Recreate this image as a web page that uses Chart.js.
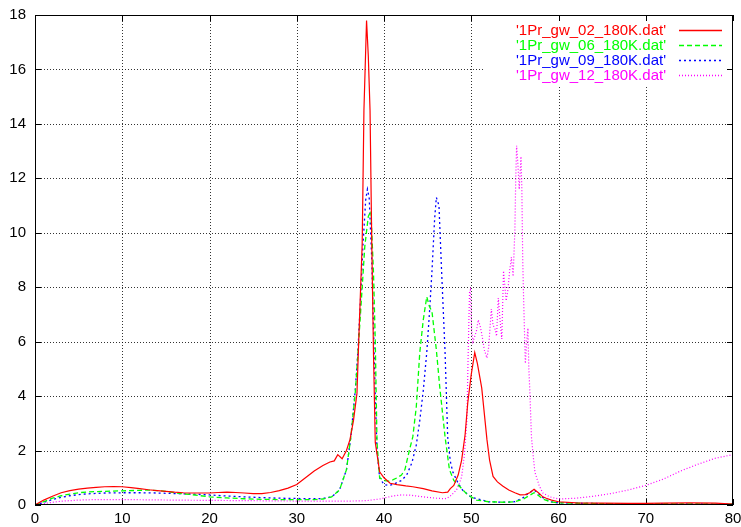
<!DOCTYPE html>
<html><head><meta charset="utf-8">
<script src="https://cdn.jsdelivr.net/npm/chart.js@4/dist/chart.umd.min.js"></script>
<style>html,body{margin:0;padding:0;background:#fff;}#wrap{width:741px;height:527px;}</style>
</head><body><div id="wrap"><canvas id="c" width="741" height="527"></canvas></div>
<script>
// ---- data ----
const seriesLabels = ["'1Pr_gw_02_180K.dat'", "'1Pr_gw_06_180K.dat'", "'1Pr_gw_09_180K.dat'", "'1Pr_gw_12_180K.dat'"];
const xTicks = [0,10,20,30,40,50,60,70,80];
const yTicks = [0,2,4,6,8,10,12,14,16,18];

const redX = [0,1,2,3,4,5,6,7,8,9,10,11,12,13,14,15,16,17,18,19,20,21,22,23,24,25,26,27,28,29,30,31,32,33,33.8,34.3,34.7,35.2,35.7,36.1,36.5,36.9,37.1,37.5,37.7,38.0,38.2,38.4,38.6,38.8,39.0,39.5,40.0,40.7,41.5,42.5,43.3,44.5,45.5,46.7,47.3,47.6,48.0,48.5,48.9,49.3,49.6,50.0,50.4,50.7,51.2,51.8,52.1,52.5,53.0,53.6,54.3,55.0,55.6,56.2,56.7,57.2,57.7,58.2,58.6,59.2,60,62,65,68,70,72,75,78,80];
const redY = [0,0.18,0.32,0.45,0.53,0.58,0.62,0.65,0.67,0.68,0.67,0.64,0.6,0.56,0.53,0.5,0.47,0.45,0.44,0.44,0.44,0.46,0.47,0.46,0.44,0.42,0.42,0.46,0.53,0.62,0.75,1.0,1.25,1.45,1.58,1.62,1.85,1.7,2.0,2.4,3.1,4.1,6.0,9.6,14.5,17.8,16.5,14.5,9.6,5.5,2.3,1.22,1.0,0.8,0.75,0.7,0.67,0.6,0.52,0.45,0.47,0.6,0.72,1.1,1.65,2.6,3.75,4.8,5.6,5.2,4.3,2.4,1.65,1.05,0.85,0.7,0.55,0.45,0.37,0.38,0.45,0.58,0.45,0.3,0.25,0.18,0.12,0.08,0.07,0.06,0.06,0.07,0.08,0.07,0.03];

const greenX = [0,1,2,3,4,5,6,8,10,12,13,14,15,16,17,18,19,20,22,24,26,28,30,32,33,34,34.9,35.7,36.2,36.7,37.0,37.4,37.8,38.2,38.5,38.8,39.0,39.2,39.5,40.0,40.5,41.0,41.5,42.0,42.4,42.9,43.3,43.7,44.1,44.5,44.9,45.2,45.5,46.0,46.4,47.0,47.5,48.0,48.7,49.5,50.6,52,54,55,56,56.5,57.2,57.7,58.2,59,60,65,70,75,80];
const greenY = [0,0.12,0.25,0.34,0.4,0.45,0.48,0.5,0.52,0.54,0.55,0.53,0.5,0.45,0.41,0.38,0.34,0.3,0.26,0.23,0.21,0.2,0.2,0.2,0.22,0.3,0.55,1.3,2.5,4.1,5.5,7.5,9.5,10.6,10.8,8.5,6.0,2.3,1.0,0.9,0.88,0.92,1.0,1.1,1.3,2.0,2.5,3.6,5.6,6.8,7.65,7.3,7.1,5.7,4.3,2.5,1.3,0.9,0.67,0.4,0.18,0.12,0.1,0.12,0.22,0.32,0.45,0.35,0.22,0.12,0.08,0.05,0.05,0.04,0.03];

const blueX = [0,1,2,3,4,5,6,8,10,12,14,16,18,20,22,24,26,28,30,32,33,34,34.9,35.7,36.2,36.7,37.0,37.3,37.6,37.9,38.1,38.3,38.6,38.8,39.0,39.2,39.5,40.0,40.5,41.0,42.0,42.6,43.2,43.7,44.1,44.5,44.9,45.2,45.5,45.8,46.0,46.3,46.6,47.0,47.3,47.6,47.9,48.5,49.0,50,52,54,55,56,56.5,57.2,57.7,58.2,59,60,65,70,75,80];
const blueY = [0,0.1,0.2,0.28,0.34,0.38,0.41,0.44,0.45,0.45,0.44,0.42,0.4,0.37,0.33,0.3,0.27,0.25,0.24,0.23,0.24,0.3,0.55,1.3,2.5,4.2,5.6,7.5,9.6,11.2,11.6,11.3,9.0,6.5,4.0,2.0,1.0,0.75,0.72,0.75,0.9,1.1,1.55,2.2,3.1,4.2,5.6,7.0,8.6,10.5,11.3,11.0,8.6,5.6,2.5,1.6,1.2,0.8,0.55,0.28,0.12,0.1,0.12,0.28,0.42,0.55,0.42,0.28,0.12,0.08,0.05,0.05,0.04,0.03];

const magX = [0,1,2,3,5,7,10,13,16,20,24,28,32,35,37,38,39.5,41,42,43,44,45,46,47,47.5,48,48.3,48.6,48.9,49.2,49.5,49.65,49.8,49.9,50.05,50.2,50.4,50.6,50.8,51.0,51.2,51.5,51.8,52.0,52.3,52.5,52.7,52.9,53.1,53.3,53.5,53.7,54.0,54.2,54.4,54.6,54.8,55.0,55.1,55.2,55.35,55.5,55.7,55.8,55.9,56.0,56.2,56.35,56.5,56.6,56.7,56.9,57.1,57.3,57.6,57.8,58.2,59,60,62,64,66,68,70,72,74,76,78,80];
const magY = [0,0.05,0.1,0.14,0.18,0.2,0.2,0.19,0.18,0.17,0.16,0.15,0.14,0.14,0.15,0.16,0.22,0.33,0.37,0.36,0.32,0.28,0.25,0.23,0.3,0.45,0.55,0.75,1.04,1.8,3.1,5.6,7.8,7.9,6.4,6.0,6.2,6.4,6.8,6.6,6.3,5.7,5.4,5.8,7.2,6.6,6.5,6.2,7.6,6.8,6.1,8.6,7.5,7.9,8.6,9.1,8.4,10.1,12.0,13.2,12.5,11.6,12.8,11.6,9.0,7.6,5.2,6.0,6.5,5.0,4.3,2.5,1.8,1.2,0.9,0.7,0.44,0.3,0.22,0.25,0.32,0.42,0.55,0.72,0.95,1.25,1.5,1.72,1.85];

// ---- chart ----
const pts = (xs, ys) => xs.map((x, i) => ({x: x, y: ys[i]}));
const FONT = "'Liberation Sans', Arial, sans-serif";

const gnuplotFrame = {
  id: 'gnuplotFrame',
  beforeDatasetsDraw(chart) {
    const {ctx, chartArea: a, scales: {x, y}} = chart;
    ctx.save();
    ctx.lineWidth = 1;
    ctx.strokeStyle = 'rgba(0,0,0,0.8)';
    ctx.setLineDash([1, 2]);
    ctx.beginPath();
    xTicks.slice(1, -1).forEach(v => {
      const px = Math.round(x.getPixelForValue(v)) + 0.5;
      ctx.moveTo(px, a.top); ctx.lineTo(px, a.bottom);
    });
    yTicks.slice(1, -1).forEach(v => {
      const py = Math.round(y.getPixelForValue(v)) + 0.5;
      ctx.moveTo(a.left, py); ctx.lineTo(a.right, py);
    });
    ctx.stroke();
    // key background
    ctx.setLineDash([]);
    ctx.fillStyle = '#fff';
    ctx.fillRect(484, a.top + 1, a.right - 485, 70);
    // inward ticks
    ctx.strokeStyle = '#000';
    ctx.beginPath();
    const tl = 6;
    xTicks.forEach(v => {
      const px = Math.round(x.getPixelForValue(v)) + 0.5;
      ctx.moveTo(px, a.bottom); ctx.lineTo(px, a.bottom - tl);
      ctx.moveTo(px, a.top); ctx.lineTo(px, a.top + tl);
    });
    yTicks.forEach(v => {
      const py = Math.round(y.getPixelForValue(v)) + 0.5;
      ctx.moveTo(a.left, py); ctx.lineTo(a.left + tl, py);
      ctx.moveTo(a.right, py); ctx.lineTo(a.right - tl, py);
    });
    ctx.stroke();
    ctx.restore();
  },
  afterDatasetsDraw(chart) {
    const {ctx, chartArea: a} = chart;
    ctx.save();
    ctx.lineWidth = 1;
    ctx.strokeStyle = '#000';
    ctx.setLineDash([]);
    ctx.strokeRect(Math.round(a.left) + 0.5, Math.round(a.top) + 0.5, Math.round(a.right - a.left) - 1, Math.round(a.bottom - a.top) - 1);
    // key
    ctx.font = '15px ' + FONT;
    ctx.textAlign = 'right';
    ctx.textBaseline = 'middle';
    chart.data.datasets.forEach((ds, i) => {
      const yy = 30 + i * 15;
      ctx.fillStyle = ds.borderColor;
      ctx.fillText(ds.label, 666, yy + 1);
      ctx.strokeStyle = ds.borderColor;
      ctx.lineWidth = 1.5;
      ctx.setLineDash(ds.borderDash || []);
      ctx.beginPath();
      ctx.moveTo(679, yy + 0.5); ctx.lineTo(722, yy + 0.5);
      ctx.stroke();
    });
    ctx.restore();
  }
};

new Chart(document.getElementById('c'), {
  type: 'line',
  data: {
    datasets: [
      {label: seriesLabels[0], data: pts(redX, redY), borderColor: '#ff0000', borderWidth: 1.2, borderDash: []},
      {label: seriesLabels[1], data: pts(greenX, greenY), borderColor: '#00ff00', borderWidth: 1.3, borderDash: [5, 3]},
      {label: seriesLabels[2], data: pts(blueX, blueY), borderColor: '#0000ff', borderWidth: 1.3, borderDash: [2, 3]},
      {label: seriesLabels[3], data: pts(magX, magY), borderColor: '#ff00ff', borderWidth: 1.2, borderDash: [1, 2]}
    ]
  },
  options: {
    responsive: false,
    animation: false,
    devicePixelRatio: 1,
    layout: {padding: {top: 15, right: 8, left: 0, bottom: 0}},
    elements: {point: {radius: 0, hoverRadius: 0}, line: {tension: 0}},
    plugins: {legend: {display: false}, tooltip: {enabled: false}},
    scales: {
      x: {
        type: 'linear', min: 0, max: 80,
        afterBuildTicks: s => { s.ticks = xTicks.map(v => ({value: v})); },
        afterFit: s => { s.height = 22; s.paddingLeft = 0; s.paddingRight = 0; },
        grid: {display: false, drawTicks: false},
        border: {display: false},
        ticks: {color: '#000', font: {family: FONT, size: 15}, padding: 5, maxRotation: 0, autoSkip: false}
      },
      y: {
        type: 'linear', min: 0, max: 18,
        afterBuildTicks: s => { s.ticks = yTicks.map(v => ({value: v})); },
        afterFit: s => { s.width = 35; s.paddingTop = 0; s.paddingBottom = 0; },
        grid: {display: false, drawTicks: false},
        border: {display: false},
        ticks: {color: '#000', font: {family: FONT, size: 15}, padding: 9}
      }
    }
  },
  plugins: [gnuplotFrame]
});
</script></body></html>
